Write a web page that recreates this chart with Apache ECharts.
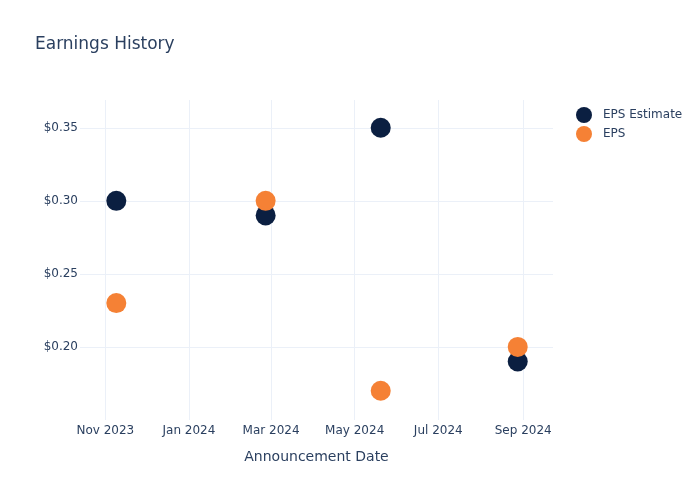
<!DOCTYPE html>
<html>
<head>
<meta charset="utf-8">
<script src="https://cdn.jsdelivr.net/npm/echarts@6/dist/echarts.min.js"></script>
<style>html,body{margin:0;padding:0;background:#fff}#c{width:700px;height:500px}</style>
</head>
<body>
<div id="c"></div>
<script>
const dates = ['2023-11-09', '2024-02-26', '2024-05-20', '2024-08-28'];
const epsEstimate = [0.30, 0.29, 0.35, 0.19];
const eps = [0.23, 0.30, 0.17, 0.20];
const xTicks = ['2023-11-01', '2024-01-01', '2024-03-01', '2024-05-01', '2024-07-01', '2024-09-01'];
const yTicks = [0.20, 0.25, 0.30, 0.35];

const font = 'DejaVu Sans, Verdana, sans-serif';
const textColor = '#2a3f5f';
const gridColor = '#ebf0f8';
const chart = echarts.init(document.getElementById('c'), null, {renderer: 'canvas'});
const toPairs = (vals) => dates.map((d, i) => [d, vals[i]]);
const xTickMs = xTicks.map(d => new Date(d + 'T00:00:00').getTime());

chart.setOption({
  backgroundColor: '#fff',
  animation: false,
  title: {
    text: 'Earnings History',
    left: 30, top: 31,
    textStyle: {fontFamily: font, fontSize: 17, fontWeight: 'normal', color: textColor}
  },
  legend: {
    data: ['EPS Estimate', 'EPS'],
    orient: 'vertical',
    left: 571, top: 102,
    itemWidth: 16, itemHeight: 16, itemGap: 3,
    icon: 'circle',
    textStyle: {fontFamily: font, fontSize: 12, color: textColor, padding: [0, 0, 0, 6]}
  },
  grid: {left: 80, right: 147, top: 100, bottom: 80, containLabel: false},
  xAxis: {
    type: 'time',
    min: '2023-10-13T12:00:00',
    max: '2024-09-22T18:00:00',
    name: 'Announcement Date',
    nameLocation: 'middle',
    nameGap: 30,
    nameTextStyle: {fontFamily: font, fontSize: 14, color: textColor},
    axisLine: {show: false},
    axisTick: {show: false, customValues: xTickMs},
    axisLabel: {
      fontFamily: font, fontSize: 12, color: textColor, margin: 5,
      customValues: xTickMs,
      formatter: '{MMM} {yyyy}',
      hideOverlap: false
    },
    splitLine: {show: true, showMinLine: false, showMaxLine: false, lineStyle: {color: gridColor, width: 1}}
  },
  yAxis: {
    type: 'value',
    min: 0.15,
    max: 0.369,
    interval: 0.05,
    axisLine: {show: false},
    axisTick: {show: false},
    axisLabel: {
      fontFamily: font, fontSize: 12, color: textColor, margin: 2,
      showMinLabel: false,
      formatter: (v) => yTicks.some(t => Math.abs(t - v) < 1e-6) ? '$' + v.toFixed(2) : ''
    },
    splitLine: {show: true, showMinLine: false, showMaxLine: false, lineStyle: {color: gridColor, width: 1}}
  },
  series: [
    {
      name: 'EPS Estimate', type: 'scatter', symbolSize: 20,
      itemStyle: {color: '#0b1f41', opacity: 1},
      data: toPairs(epsEstimate)
    },
    {
      name: 'EPS', type: 'scatter', symbolSize: 20,
      itemStyle: {color: '#f58135', opacity: 1},
      data: toPairs(eps)
    }
  ]
});
</script>
</body>
</html>
